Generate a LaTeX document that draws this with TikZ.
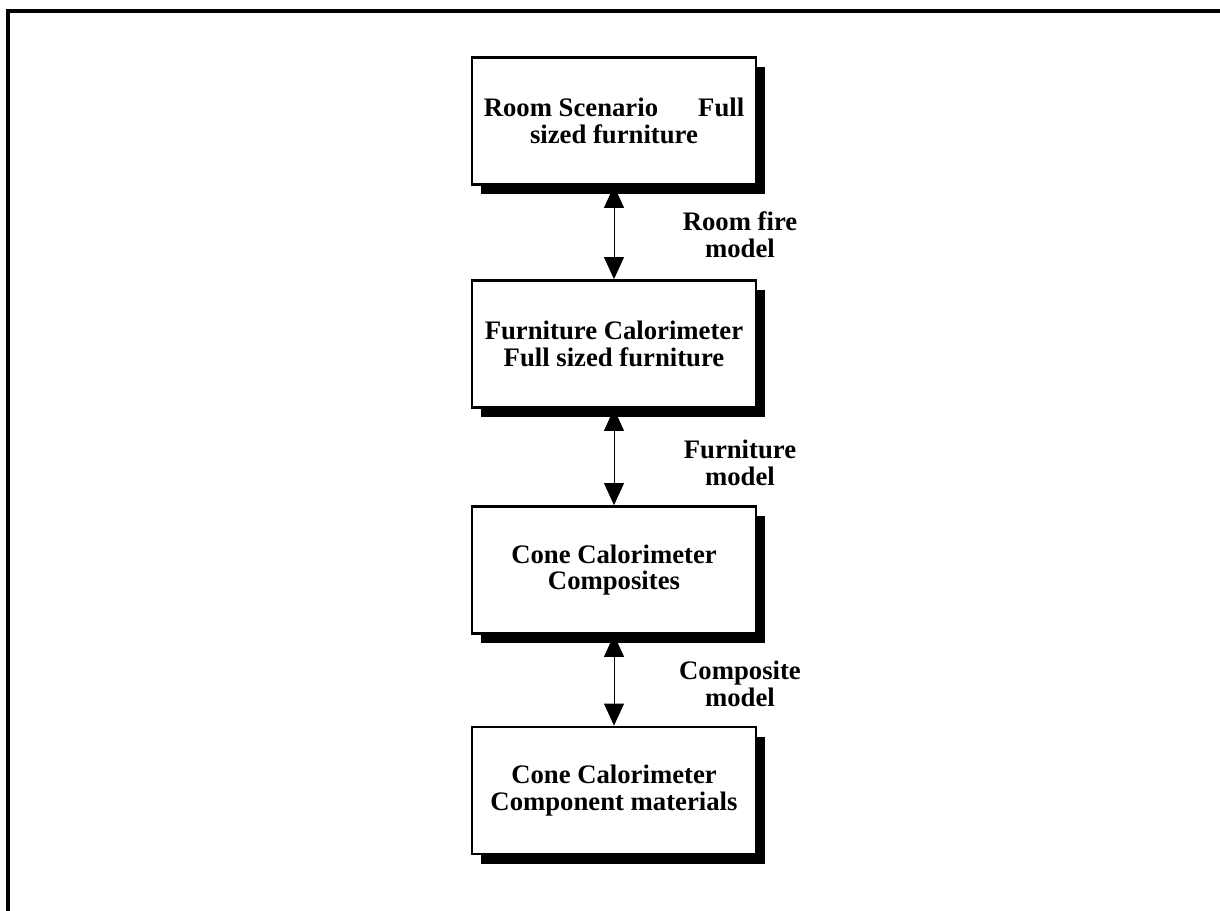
\documentclass[tikz,border=0pt]{standalone}
\usepackage{fontspec}
\setmainfont{Liberation Serif}
\usepackage{tikz}
\usetikzlibrary{positioning,arrows.meta,shadows}

\begin{document}
\begin{tikzpicture}[font=\fontsize{19}{19}\selectfont\bfseries,
 stage/.style={draw,line width=2pt,fill=white,align=center,minimum width=7.1cm,minimum height=3.175cm,
   drop shadow={shadow xshift=0.225cm,shadow yshift=-0.25cm,fill=black,opacity=1}},
 lbl/.style={align=center,inner sep=1pt},
 ar/.style={{Triangle[width=5mm,length=5.5mm]}-{Triangle[width=5mm,length=5.5mm]},line width=0.7pt}]
\useasboundingbox (0,0) rectangle (30.5,22.775);
% frame
\draw[line width=2.4pt] (0.2,0) -- (0.2,22.5) -- (30.5,22.5);
\node[stage] (room) at (15.35,19.75) {Room Scenario\hspace{1.5em}Full\\ sized furniture};
\node[stage] (furn) at (15.35,14.175) {Furniture Calorimeter\\ Full sized furniture};
\node[stage] (comp) at (15.35,8.525) {Cone Calorimeter\\ Composites};
\node[stage] (mat) at (15.35,3.0125) {Cone Calorimeter\\ Component materials};
\node[lbl] (l1) at (18.5,16.9) {Room fire\\ model};
\node[lbl] (l2) at (18.5,11.2) {Furniture\\ model};
\node[lbl] (l3) at (18.5,5.675) {Composite\\ model};
\draw[ar] (room) -- (furn);
\draw[ar] (furn) -- (comp);
\draw[ar] (comp) -- (mat);
\end{tikzpicture}
\end{document}
